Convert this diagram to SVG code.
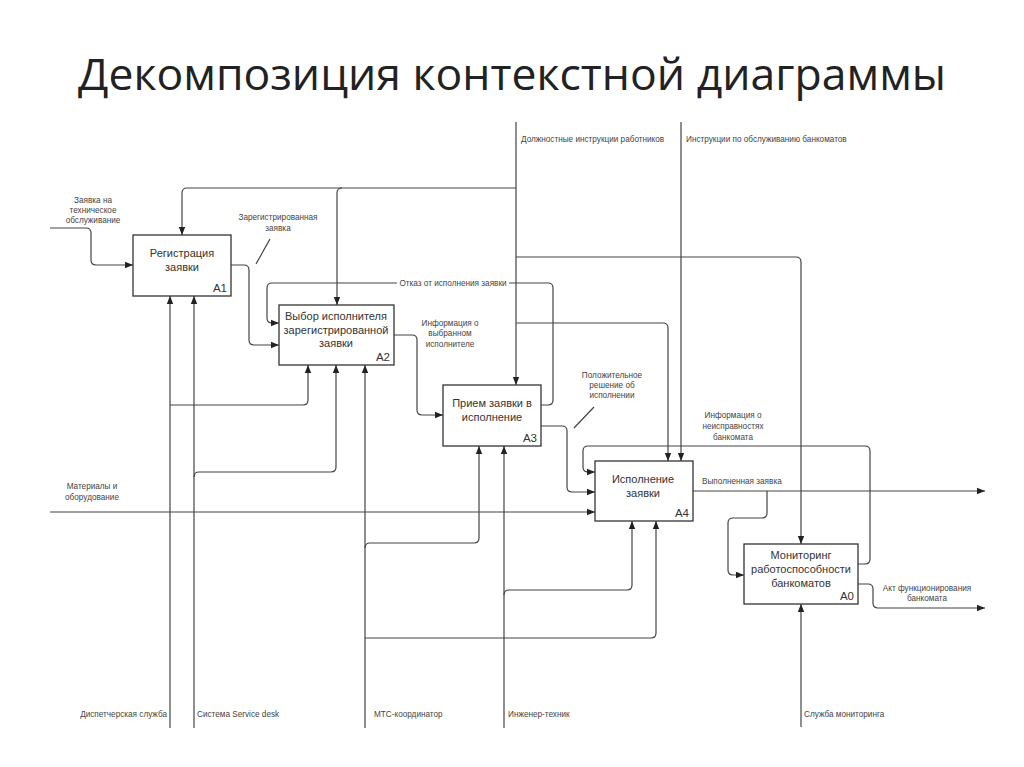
<svg xmlns="http://www.w3.org/2000/svg" width="1024" height="767" viewBox="0 0 1024 767">
<defs>
<marker id="arr" markerUnits="userSpaceOnUse" markerWidth="8" markerHeight="8" viewBox="0 0 8 8" refX="8" refY="4" orient="auto">
<path d="M0,0.8 L8,4 L0,7.2 Z" fill="#222"/>
</marker>
<style>
.box{fill:#fff;stroke:#333;stroke-width:1.3}
.bt{font-family:"Liberation Sans",Arial,sans-serif;font-size:11px;fill:#333;text-anchor:middle}
.id{font-family:"Liberation Sans",Arial,sans-serif;font-size:11.5px;fill:#333;text-anchor:end}
.lb{font-family:"Liberation Sans",Arial,sans-serif;font-size:8.2px;fill:#444}
.c{text-anchor:middle}
.ln{fill:none;stroke:#444;stroke-width:1.2}
.ar{marker-end:url(#arr)}
</style>
</defs>
<rect width="1024" height="767" fill="#fff"/>
<text x="512" y="90" font-family="Open Sans, Liberation Sans, sans-serif" font-size="43" fill="#222" text-anchor="middle" textLength="868" lengthAdjust="spacingAndGlyphs">Декомпозиция контекстной диаграммы</text>

<g id="connectors">
<path class="ln ar" d="M50,228 H86 Q91,228 91,233 V260 Q91,265 96,265 H133"/>
<path class="ln ar" d="M231,265 H244 Q249,265 249,270 V340 Q249,345 254,345 H279"/>
<path class="ln ar" d="M541,405 H548 Q553,405 553,400 V288 Q553,283 548,283 H272 Q267,283 267,288 V318 Q267,323 272,323 H279"/>
<path class="ln ar" d="M394,335 H412 Q417,335 417,340 V410 Q417,415 422,415 H443"/>
<path class="ln ar" d="M541,426 H562 Q567,426 567,431 V487 Q567,492 572,492 H595"/>
<path class="ln ar" d="M858,564 H865 Q870,564 870,559 V451 Q870,446 865,446 H588 Q583,446 583,451 V467 Q583,472 588,472 H595"/>
<path class="ln ar" d="M50,512 H595"/>
<path class="ln ar" d="M693,491 H985"/>
<path class="ln ar" d="M767,491 V513 Q767,518 762,518 H733 Q728,518 728,523 V570 Q728,575 733,575 H744"/>
<path class="ln ar" d="M858,584 H868 Q873,584 873,589 V603 Q873,608 878,608 H985"/>
<path class="ln ar" d="M801,727 V604"/>
<path class="ln ar" d="M516,122 V385"/>
<path class="ln ar" d="M516,188 H187 Q182,188 182,193 V235"/>
<path class="ln ar" d="M342,188 Q337,188 337,193 V305"/>
<path class="ln ar" d="M516,257 H796 Q801,257 801,262 V544"/>
<path class="ln ar" d="M516,323 H663 Q668,323 668,328 V461"/>
<path class="ln ar" d="M681,122 V461"/>
<path class="ln ar" d="M170,728 V296"/>
<path class="ln ar" d="M194,728 V296"/>
<path class="ln ar" d="M170,405 H303 Q308,405 308,400 V365"/>
<path class="ln ar" d="M194,477 Q194,472 199,472 H331 Q336,472 336,467 V365"/>
<path class="ln ar" d="M365,728 V365"/>
<path class="ln ar" d="M365,548 Q365,543 370,543 H474 Q479,543 479,538 V446"/>
<path class="ln ar" d="M365,638 H651 Q656,638 656,633 V521"/>
<path class="ln ar" d="M504,728 V446"/>
<path class="ln ar" d="M504,595 Q504,590 509,590 H627 Q632,590 632,585 V521"/>
<path class="ln" d="M270,239 L256,264"/>
<path class="ln" d="M594,407 L574,428"/>
</g>

<g id="A1">
<rect class="box" x="133" y="235" width="98" height="61"/>
<text class="bt" x="182" y="257">Регистрация</text>
<text class="bt" x="182" y="271">заявки</text>
<text class="id" x="227" y="292">A1</text>
</g>
<g id="A2">
<rect class="box" x="279" y="305" width="115" height="60"/>
<text class="bt" x="336" y="320">Выбор исполнителя</text>
<text class="bt" x="336" y="334">зарегистрированной</text>
<text class="bt" x="336" y="347">заявки</text>
<text class="id" x="390" y="361">A2</text>
</g>
<g id="A3">
<rect class="box" x="443" y="385" width="98" height="61"/>
<text class="bt" x="492" y="407">Прием заявки в</text>
<text class="bt" x="492" y="421">исполнение</text>
<text class="id" x="537" y="442">A3</text>
</g>
<g id="A4">
<rect class="box" x="595" y="461" width="98" height="60"/>
<text class="bt" x="643" y="483">Исполнение</text>
<text class="bt" x="643" y="497">заявки</text>
<text class="id" x="689" y="517">A4</text>
</g>
<g id="A0">
<rect class="box" x="744" y="544" width="114" height="60"/>
<text class="bt" x="801" y="559" font-size="11.5">Мониторинг</text>
<text class="bt" x="801" y="573" font-size="11.5">работоспособности</text>
<text class="bt" x="801" y="587" font-size="11.5">банкоматов</text>
<text class="id" x="854" y="600">A0</text>
</g>

<g id="labels">
<text class="lb c" x="93" y="203">Заявка на</text>
<text class="lb c" x="93" y="213">техническое</text>
<text class="lb c" x="93" y="223">обслуживание</text>
<text class="lb c" x="278" y="220">Зарегистрированная</text>
<text class="lb c" x="278" y="231">заявка</text>
<rect x="397" y="278" width="112" height="10" fill="#fff"/>
<text class="lb c" x="453" y="286">Отказ от исполнения заявки</text>
<text class="lb c" x="450" y="326">Информация о</text>
<text class="lb c" x="450" y="336">выбранном</text>
<text class="lb c" x="450" y="347">исполнителе</text>
<text class="lb c" x="612" y="378">Положительное</text>
<text class="lb c" x="612" y="388">решение об</text>
<text class="lb c" x="612" y="398">исполнении</text>
<text class="lb c" x="733" y="418">Информация о</text>
<text class="lb c" x="733" y="429">неисправностях</text>
<text class="lb c" x="733" y="440">банкомата</text>
<text class="lb" x="702" y="484">Выполненная заявка</text>
<text class="lb c" x="927" y="591">Акт функционирования</text>
<text class="lb c" x="927" y="601">банкомата</text>
<text class="lb c" x="92" y="489">Материалы и</text>
<text class="lb c" x="92" y="500">оборудование</text>
<text class="lb" x="521" y="142">Должностные инструкции работников</text>
<text class="lb" x="686" y="142">Инструкции по обслуживанию банкоматов</text>
<text class="lb" x="167" y="717" text-anchor="end">Диспетчерская служба</text>
<text class="lb" x="197" y="717">Система Service desk</text>
<text class="lb" x="374" y="717">МТС-координатор</text>
<text class="lb" x="508" y="717">Инженер-техник</text>
<text class="lb" x="804" y="717">Служба мониторинга</text>
</g>
</svg>
